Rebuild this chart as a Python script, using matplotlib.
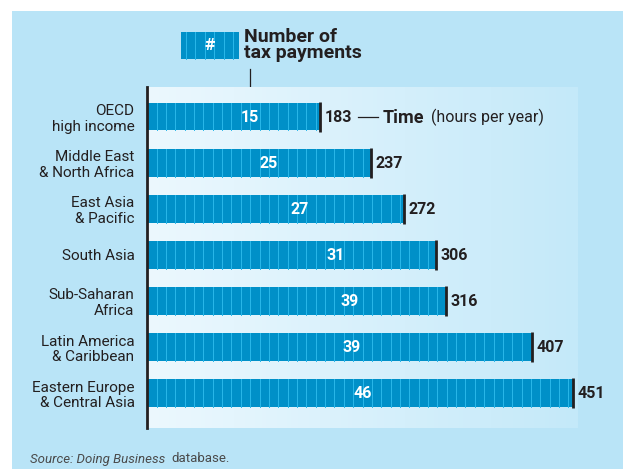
import numpy as np
import matplotlib
matplotlib.use("Agg")
import matplotlib.pyplot as plt
from matplotlib.patches import Rectangle

plt.rcParams['font.family'] = ['Roboto', 'DejaVu Sans']

regions = ["OECD\nhigh income", "Middle East\n& North Africa", "East Asia\n& Pacific",
           "South Asia", "Sub-Saharan\nAfrica", "Latin America\n& Caribbean",
           "Eastern Europe\n& Central Asia"]
hours = [183, 237, 272, 306, 316, 407, 451]
payments = [15, 25, 27, 31, 39, 39, 46]
# where the payment count sits inside each bar (hours axis)
label_x = [109, 129, 162, 200, 214, 217, 228]

bg = '#b9e4f7'
bar_c = '#0090c8'
stripe_c = '#2ab8ea'
ink = '#231f20'

fig = plt.figure(figsize=(6.23, 4.69), dpi=100)

# background layer in pixel coordinates
bax = fig.add_axes([0, 0, 1, 1])
bax.set_xlim(0, 623)
bax.set_ylim(469, 0)
bax.axis('off')
bax.add_patch(Rectangle((12, 11), 611, 460, color=bg, lw=0))

# legend box
bax.add_patch(Rectangle((181, 32), 58, 27, color=bar_c, lw=0))
for sx in np.arange(186, 239, 9.4):
    bax.plot([sx, sx], [32, 59], color=stripe_c, lw=0.7)
bax.text(210, 46, '#', color='white', fontsize=12.5, fontweight='bold', ha='center', va='center')
bax.text(244, 45, 'Number of\ntax payments', color=ink, fontsize=14, fontweight='bold',
         ha='left', va='center', linespacing=0.9)
bax.plot([250, 250], [69, 108], color=ink, lw=0.9)

# source
bax.text(30, 459, 'Source: Doing Business', color='#4a4a4a', fontsize=9.5, style='italic',
         ha='left', va='center')
bax.text(171, 459, 'database.', color='#4a4a4a', fontsize=9.5, ha='left', va='center')

# data axes
ax = fig.add_axes([147 / 623, 1 - 428 / 469, (578 - 147) / 623, (428 - 87) / 469])
ax.set_xlim(0, 456)
ax.set_ylim(6.76, -0.65)
ax.set_zorder(2)
ax.patch.set_alpha(0)

grad = np.linspace(0, 1, 256).reshape(1, -1)
cmap = matplotlib.colors.LinearSegmentedColormap.from_list('g', ['#ecf8fe', '#c4e9f9'])
ax.imshow(grad, cmap=cmap, aspect='auto', extent=[0, 456, 6.76, -0.65], zorder=0)

y = np.arange(len(regions))
ax.barh(y, hours, height=0.59, color=bar_c, zorder=1)
for yi, h in zip(y, hours):
    for sx in np.arange(0.3, h - 2, 9.9):
        ax.plot([sx, sx], [yi - 0.295, yi + 0.295], color=stripe_c, lw=0.7, zorder=2)
    ax.plot([h, h], [yi - 0.33, yi + 0.33], color=ink, lw=2, zorder=3, solid_capstyle='butt')
    ax.text(h + 5, yi + 0.02, str(h), color=ink, fontsize=11.5, fontweight='bold',
            ha='left', va='center', zorder=4)
for yi, p, lx in zip(y, payments, label_x):
    ax.text(lx, yi + 0.02, str(p), color='white', fontsize=11.5, fontweight='bold',
            ha='center', va='center', zorder=4)

ax.set_yticks(y)
ax.set_yticklabels(regions, fontsize=11, color=ink, linespacing=1.1)
ax.tick_params(axis='y', length=0, pad=9)
ax.set_xticks([])
for s in ['top', 'right', 'bottom']:
    ax.spines[s].set_visible(False)
ax.spines['left'].set_color(ink)
ax.spines['left'].set_linewidth(2)

# time annotation on first bar
ax.plot([223, 244], [0, 0], color=ink, lw=0.9, zorder=4)
ax.text(249, 0.02, 'Time', color=ink, fontsize=13, fontweight='bold', ha='left', va='center')
ax.text(300, 0.02, '(hours per year)', color=ink, fontsize=11.5, ha='left', va='center')

fig.savefig('out.png', dpi=100)
